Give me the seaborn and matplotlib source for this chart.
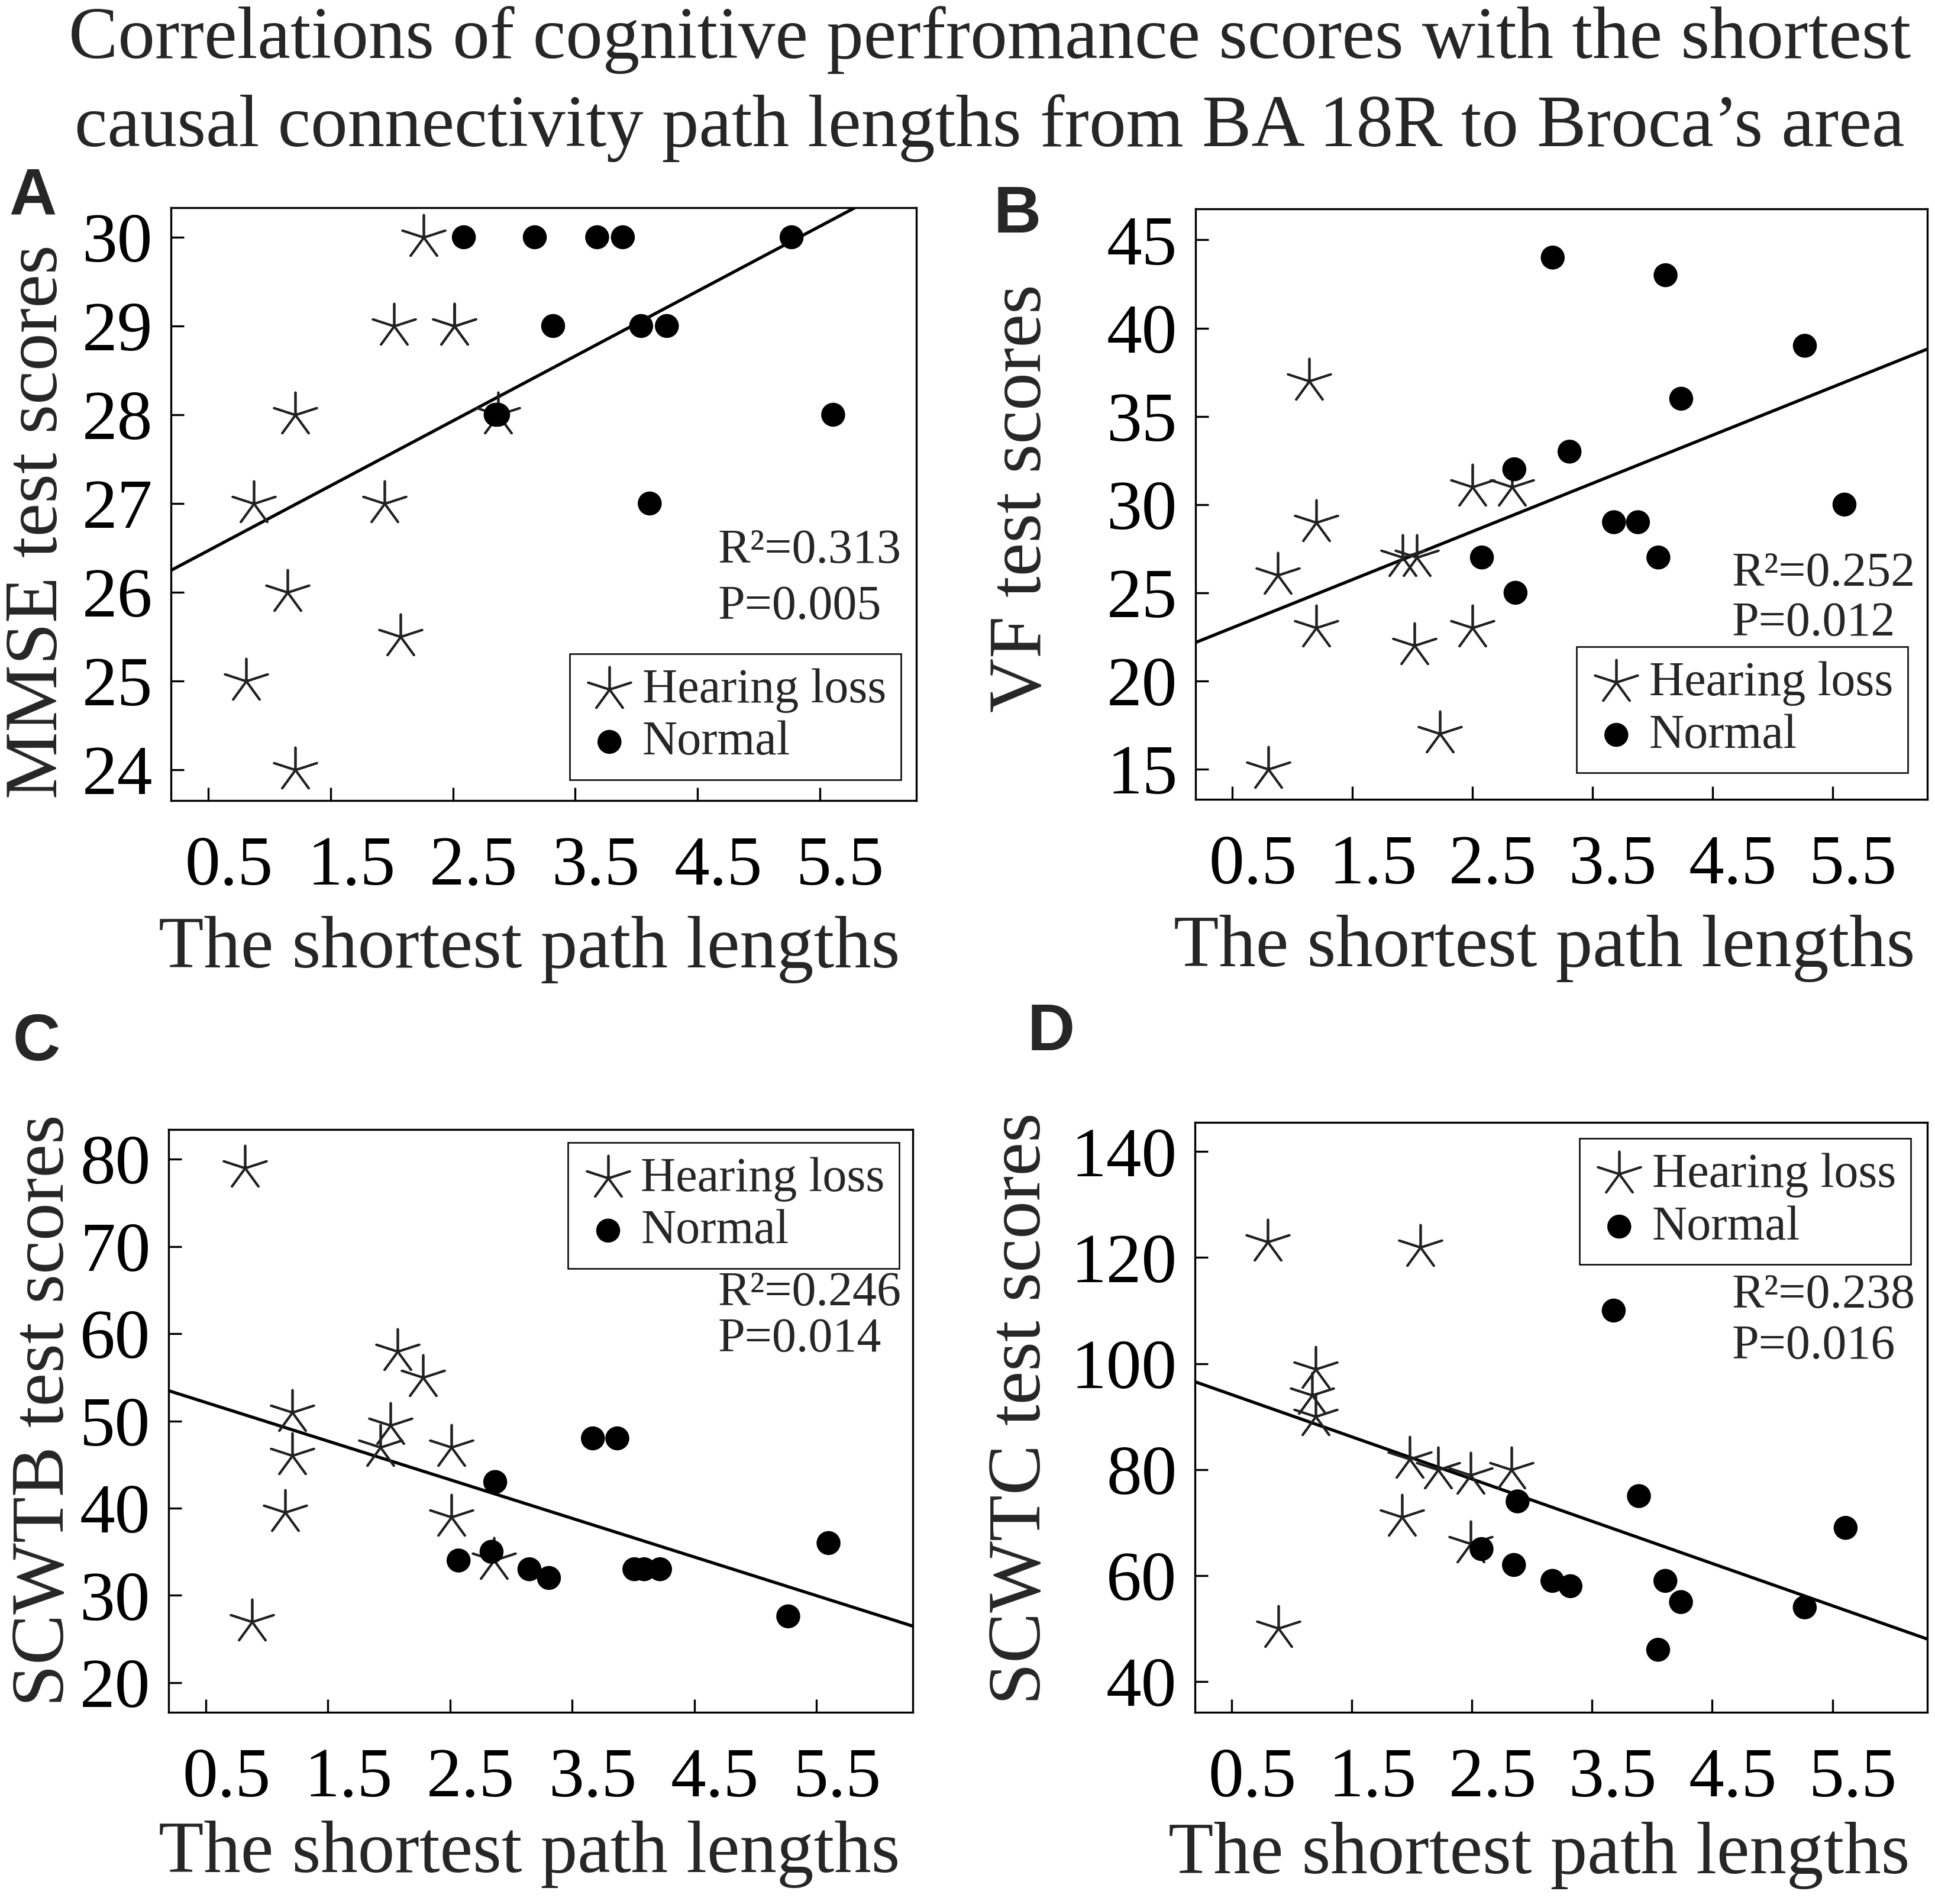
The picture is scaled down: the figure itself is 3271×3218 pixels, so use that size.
import matplotlib
matplotlib.use('Agg')
import matplotlib.pyplot as plt
import matplotlib.transforms as mtransforms
import seaborn as sns
import pandas as pd

sns.set_style('white')
plt.rcParams['font.family'] = ['Liberation Serif', 'DejaVu Serif']

# ---- data ----
title_lines = ['Correlations of cognitive perfromance scores with the shortest',
               'causal connectivity path lengths from BA 18R to Broca\u2019s area']
groups = ['Hearing loss', 'Normal']
x_ticks = [0.5, 1.5, 2.5, 3.5, 4.5, 5.5]

# A: MMSE
hl_x_a = [0.81, 0.87, 1.15, 1.21, 1.21, 1.94, 2.02, 2.07, 2.26, 2.51, 2.51, 2.87]
hl_y_a = [25, 27, 26, 28, 24, 27, 29, 25.5, 30, 29, 29, 28]
nm_x_a = [2.59, 2.85, 2.87, 3.17, 3.32, 3.68, 3.89, 4.04, 4.11, 4.25, 5.27, 5.61]
nm_y_a = [30, 28, 28, 30, 29, 30, 30, 29, 27, 29, 30, 28]
yticks_a = [24, 25, 26, 27, 28, 29, 30]

# B: VF
hl_x_b = [0.80, 0.88, 1.14, 1.20, 1.20, 1.92, 2.02, 2.04, 2.23, 2.50, 2.50, 2.83]
hl_y_b = [15, 26, 37, 29, 23, 27, 22, 27, 17, 31, 23, 31]
nm_x_b = [2.58, 2.85, 2.86, 3.17, 3.31, 3.68, 3.88, 4.05, 4.11, 4.24, 5.27, 5.60]
nm_y_b = [27, 32, 25, 44, 33, 29, 29, 27, 43, 36, 39, 30]
yticks_b = [15, 20, 25, 30, 35, 40, 45]

# C: SCWTB
hl_x_c = [0.82, 0.88, 1.15, 1.21, 1.21, 1.93, 2.01, 2.07, 2.28, 2.51, 2.51, 2.86]
hl_y_c = [79, 27, 39.5, 51, 46, 47, 49.5, 58, 55, 47, 39, 34]
nm_x_c = [2.57, 2.84, 2.87, 3.15, 3.31, 3.67, 3.87, 4.01, 4.09, 4.22, 5.27, 5.60]
nm_y_c = [34, 35, 43, 33, 32, 48, 48, 33, 33, 33, 27.6, 36]
yticks_c = [20, 30, 40, 50, 60, 70, 80]

# D: SCWTC
hl_x_d = [0.80, 0.89, 1.17, 1.20, 1.20, 1.92, 1.98, 2.07, 2.22, 2.49, 2.49, 2.83]
hl_y_d = [123, 50, 94, 99, 90, 71, 82, 122, 80, 79, 66, 80]
nm_x_d = [2.58, 2.85, 2.88, 3.17, 3.32, 3.68, 3.89, 4.05, 4.11, 4.24, 5.27, 5.61]
nm_y_d = [65, 62, 74, 59, 58, 110, 75, 46, 59, 55, 54, 69]
yticks_d = [40, 60, 80, 100, 120, 140]

panel_letters = ['A', 'B', 'C', 'D']
y_labels = ['MMSE test scores', 'VF test scores', 'SCWTB test scores', 'SCWTC test scores']
r2_texts = ['R\u00b2=0.313', 'R\u00b2=0.252', 'R\u00b2=0.246', 'R\u00b2=0.238']
p_texts = ['P=0.005', 'P=0.012', 'P=0.014', 'P=0.016']
x_label = 'The shortest path lengths'

# ---- layout (pixels on a 3271 x 3218 canvas) ----
W, H = 3271, 3218
fig = plt.figure(figsize=(W / 100, H / 100), dpi=100)

boxes = [(289, 351, 1549, 1353), (2021, 353, 3258, 1351),
         (285, 1909, 1543, 2894), (2020, 1897, 3258, 2894)]
xlim = (0.195, 6.29)
ylims = [(23.653, 30.333), (13.29, 46.76), (16.6, 83.4), (34.2, 145.5)]
letter_pos = [(15, 362), (1680, 393), (21, 1792), (1737, 1775)]
ylabel_coords = [(-0.132, 0.47), (-0.19, 0.51), (-0.12, 0.518), (-0.19, 0.515)]
xlabel_coords = [(0.481, -0.195), (0.477, -0.195), (0.485, -0.186), (0.47, -0.186)]
stat_pos = [(0.734, 0.42, 0.326), (0.733, 0.381, 0.298),
            (0.738, 0.718, 0.64), (0.733, 0.705, 0.62)]
legend_pos = [('lower right', (0.979, 0.035)), ('lower right', (0.973, 0.045)),
              ('upper right', (0.982, 0.978)), ('upper right', (0.977, 0.973))]

data = [(hl_x_a, hl_y_a, nm_x_a, nm_y_a, yticks_a),
        (hl_x_b, hl_y_b, nm_x_b, nm_y_b, yticks_b),
        (hl_x_c, hl_y_c, nm_x_c, nm_y_c, yticks_c),
        (hl_x_d, hl_y_d, nm_x_d, nm_y_d, yticks_d)]

star = (5, 2, 0)
shift = mtransforms.ScaledTranslation(0.35, 0, fig.dpi_scale_trans)

for i, (hx, hy, nx, ny, yt) in enumerate(data):
    l, t, r, b = boxes[i]
    ax = fig.add_axes([l / W, 1 - b / H, (r - l) / W, (b - t) / H])
    df = pd.DataFrame({'x': hx + nx, 'y': hy + ny,
                       'group': [groups[0]] * len(hx) + [groups[1]] * len(nx)})

    ax.set_xlim(*xlim)
    ax.set_ylim(*ylims[i])

    # fitted line across the whole axis
    sns.regplot(data=df, x='x', y='y', scatter=False, ci=None, truncate=False,
                color='black', line_kws={'linewidth': 3.8}, ax=ax)

    sns.scatterplot(data=df[df['group'] == groups[0]], x='x', y='y',
                    marker=star, s=3000, color='#222222', linewidth=2.7,
                    label=groups[0], ax=ax, zorder=3)
    sns.scatterplot(data=df[df['group'] == groups[1]], x='x', y='y',
                    marker='o', s=850, color='black', edgecolor='none',
                    label=groups[1], ax=ax, zorder=4)

    ax.set_xlim(*xlim)
    ax.set_ylim(*ylims[i])
    ax.set_xticks(x_ticks)
    ax.set_xticklabels([str(v) for v in x_ticks])
    ax.set_yticks(yt)
    ax.tick_params(axis='both', direction='in', length=16, width=2.4,
                   labelsize=86, colors='black', bottom=True, left=True)
    ax.tick_params(axis='x', pad=43)
    ax.tick_params(axis='y', pad=22)
    for lab in ax.get_xticklabels():
        lab.set_transform(lab.get_transform() + shift)
    for sp in ax.spines.values():
        sp.set_color('black')
        sp.set_linewidth(2.4)

    ax.set_ylabel(y_labels[i], fontsize=92)
    ax.yaxis.set_label_coords(*ylabel_coords[i])
    ax.set_xlabel(x_label, fontsize=90)
    ax.xaxis.set_label_coords(*xlabel_coords[i])
    ax.xaxis.label.set_va('top')

    sx, ry, py = stat_pos[i]
    ax.text(sx, ry, r2_texts[i], transform=ax.transAxes, ha='left', va='center', fontsize=59)
    ax.text(sx, py, p_texts[i], transform=ax.transAxes, ha='left', va='center', fontsize=59)

    loc, anchor = legend_pos[i]
    leg = ax.legend(loc=loc, bbox_to_anchor=anchor, borderaxespad=0, fontsize=59,
                    frameon=True, fancybox=False, edgecolor='black', framealpha=1,
                    handlelength=1.05, handletextpad=0.15, borderpad=0.3,
                    labelspacing=0.16, markerscale=1)
    leg.get_frame().set_linewidth(1.8)

    lx, ly = letter_pos[i]
    fig.text(lx / W, 1 - ly / H, panel_letters[i], ha='left', va='baseline',
             fontsize=80, fontweight='bold', family=['Liberation Sans', 'DejaVu Sans'])

fig.text(1673 / W, 1 - 98 / H, title_lines[0], ha='center', va='baseline', fontsize=90)
fig.text(1673 / W, 1 - 247 / H, title_lines[1], ha='center', va='baseline', fontsize=90)

fig.savefig('out.png', dpi=100, facecolor='white')
